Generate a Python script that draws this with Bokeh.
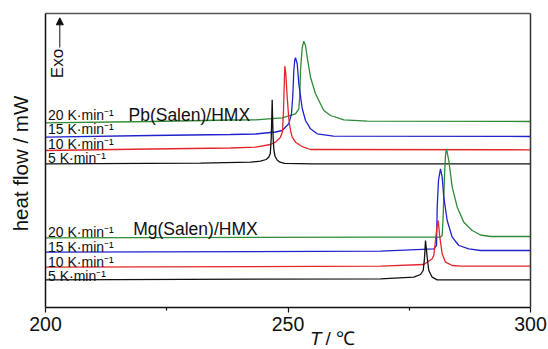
import math
from bokeh.plotting import figure
from bokeh.models import Range1d, Label, Arrow, NormalHead, FixedTicker, LinearAxis
from bokeh.embed import file_html
from bokeh.resources import INLINE

# ---------------- data (T in °C, heat flow in arbitrary offset units) ----------------
rate_labels = ["20 K·min⁻¹", "15 K·min⁻¹", "10 K·min⁻¹", "5 K·min⁻¹"]
rate_colors = ["#2e8b36", "#2222cc", "#e3262b", "#111111"]

# Pb(Salen)/HMX
pb20_T = [200.0, 221.65, 238.14, 243.30, 248.80, 251.55, 252.23, 252.43, 252.58, 252.93, 253.26, 253.61,
          253.96, 254.64, 255.67, 256.35, 257.38, 258.76, 261.51, 266.33, 300.0]
pb20_y = [184.7, 186.0, 187.5, 187.7, 189.7, 193.7, 198.7, 212.0, 237.0, 260.0, 266.3, 262.0,
          250.3, 230.3, 213.7, 207.0, 197.0, 192.0, 187.7, 186.3, 186.0]
pb15_T = [200.0, 221.65, 238.14, 243.30, 247.42, 248.80, 250.16, 250.72, 250.99, 251.20, 251.40, 251.55,
          251.90, 252.23, 252.93, 253.61, 254.64, 256.02, 259.38, 300.0]
pb15_y = [170.3, 172.0, 173.0, 173.5, 175.5, 177.0, 183.7, 193.7, 212.0, 237.0, 247.5, 249.7,
          243.7, 223.7, 199.0, 187.0, 178.7, 173.7, 171.3, 171.0]
pb10_T = [200.0, 221.65, 238.14, 243.30, 246.39, 247.42, 248.45, 248.87, 249.07, 249.22, 249.34, 249.53,
          249.84, 250.16, 250.52, 250.87, 251.55, 252.58, 253.20, 254.64, 300.0]
pb10_y = [157.0, 158.5, 159.5, 160.3, 163.0, 165.3, 170.3, 176.0, 197.0, 222.0, 241.3, 235.0,
          210.3, 189.0, 177.0, 170.3, 165.3, 162.0, 160.3, 158.0, 157.7]
pb5_T = [200.0, 231.96, 242.27, 244.33, 245.50, 246.05, 246.35, 246.55, 246.68, 246.74, 246.82, 246.95,
         247.10, 247.35, 247.75, 248.35, 249.30, 255.00, 300.0]
pb5_y = [143.7, 144.3, 145.3, 146.3, 148.0, 150.5, 154.0, 170.0, 195.0, 207.7, 190.0, 168.0,
         157.0, 151.0, 147.5, 145.3, 144.1, 143.7, 143.7]

# Mg(Salen)/HMX
mg20_T = [200.0, 269.07, 281.44, 281.79, 282.00, 282.23, 282.47, 282.68, 283.15, 283.86, 284.89, 286.25,
          287.98, 289.69, 291.75, 300.0]
mg20_y = [69.7, 70.3, 70.3, 72.0, 92.0, 127.0, 152.0, 158.7, 147.0, 120.3, 100.3, 85.3,
          77.0, 72.5, 71.0, 71.0]
mg15_T = [200.0, 269.07, 280.06, 280.62, 280.76, 281.03, 281.44, 281.79, 282.12, 282.82, 283.86, 285.22,
          287.28, 289.69, 300.0]
mg15_y = [55.3, 56.3, 58.7, 62.0, 100.3, 127.0, 138.7, 130.3, 110.3, 87.0, 70.3, 62.0,
          58.7, 57.0, 57.0]
mg10_T = [200.0, 269.07, 278.00, 279.73, 280.06, 280.41, 280.72, 280.97, 281.30, 281.79, 282.47, 283.86,
          285.57, 300.0]
mg10_y = [40.3, 41.3, 43.0, 48.7, 52.0, 67.0, 81.0, 87.0, 70.3, 53.7, 45.3, 42.0,
          41.3, 41.3]
mg5_T = [200.0, 269.07, 275.94, 277.32, 277.88, 278.14, 278.35, 278.56, 278.70, 279.03, 279.73, 280.76, 300.0]
mg5_y = [27.7, 28.7, 30.3, 33.0, 37.0, 49.0, 67.0, 57.0, 50.0, 37.0, 30.3, 27.7, 27.7]

x_ticks = [200, 250, 300]
x_minor = [225, 275]
T_MIN, T_MAX = 200, 300
Y_MIN, Y_MAX = 0, 294

pb_series = [(pb20_T, pb20_y), (pb15_T, pb15_y), (pb10_T, pb10_y), (pb5_T, pb5_y)]
mg_series = [(mg20_T, mg20_y), (mg15_T, mg15_y), (mg10_T, mg10_y), (mg5_T, mg5_y)]

# ---------------- geometry: the frame fills the canvas, the data box sits inside ----------------
W, H = 548, 349
X0 = 45          # canvas px of T = 200
PXC = 4.85       # px per °C
Y0 = 307         # canvas px (from top) of y = 0 ; 1 px per unit
x_rng = Range1d(T_MIN - X0 / PXC, T_MIN + (W - X0) / PXC)
y_rng = Range1d(-(H - Y0), Y0)
MID = 0.35       # baseline -> text middle, in font sizes

SANS = "Liberation Sans"
INK = "#111111"

p = figure(width=W, height=H, x_range=x_rng, y_range=y_rng,
           output_backend="svg", toolbar_location=None,
           x_axis_location=None, y_axis_location=None, min_border=0)
p.xgrid.visible = False
p.ygrid.visible = False
p.background_fill_color = "white"
p.border_fill_color = "white"
p.outline_line_color = None

# bottom axis (ticks + labels)
xb = LinearAxis(fixed_location=Y_MIN, bounds=(T_MIN, T_MAX),
                ticker=FixedTicker(ticks=x_ticks, minor_ticks=x_minor))
xb.major_tick_out = 5
xb.major_tick_in = 0
xb.minor_tick_out = 3
xb.minor_tick_in = 0
xb.axis_line_width = 1.5
xb.axis_line_color = INK
xb.major_tick_line_color = INK
xb.minor_tick_line_color = INK
xb.major_tick_line_width = 1.2
xb.minor_tick_line_width = 1.2
xb.major_label_text_font = SANS
xb.major_label_text_font_size = "19.5px"
xb.major_label_text_color = INK
xb.major_label_standoff = 4
p.add_layout(xb, "below")

# frame lines: left, top, right (plain axes, no ticks)
def plain_axis(loc, bounds, color, width):
    a = LinearAxis(fixed_location=loc, bounds=bounds, ticker=FixedTicker(ticks=[]))
    a.major_label_text_font_size = "0px"
    a.major_tick_out = 0
    a.minor_tick_out = 0
    a.axis_line_color = color
    a.axis_line_width = width
    return a

p.add_layout(plain_axis(T_MIN, (Y_MIN, Y_MAX), INK, 1.5), "left")
p.add_layout(plain_axis(Y_MAX, (T_MIN, T_MAX), "#555555", 1.5), "above")
p.add_layout(plain_axis(T_MAX, (Y_MIN, Y_MAX), "#333333", 1.5), "right")

for series in (pb_series, mg_series):
    for (tx, ty), col in zip(series, rate_colors):
        p.line(tx, ty, line_color=col, line_width=1.3)


def text_at(x, baseline, txt, size, **kw):
    """Left-aligned text whose baseline sits at `baseline` (data units = px)."""
    p.add_layout(Label(x=x, y=baseline + MID * size, text=txt, text_font=SANS,
                       text_font_size=f"{size}px", text_color=INK, text_align="left",
                       text_baseline="middle", **kw))


# rate labels
pb_base = [187.5, 173.5, 159.0, 145.0]
mg_base = [71.0, 56.0, 41.0, 27.0]
for bases in (pb_base, mg_base):
    for txt, b in zip(rate_labels, bases):
        text_at(200.52, b, txt, 14)

text_at(217.11, 186.3, "Pb(Salen)/HMX", 17.5)
text_at(218.08, 72.0, "Mg(Salen)/HMX", 17.5)

# Exo arrow
p.add_layout(Label(x=T_MIN + (62.7 - MID * 17 - X0) / PXC, y=244, text="Exo", angle=math.pi / 2,
                   text_font=SANS, text_font_size="17px", text_color=INK,
                   text_align="center", text_baseline="middle"))
p.add_layout(Arrow(x_start=202.95, y_start=260, x_end=202.95, y_end=289.7, line_width=1,
                   line_color=INK,
                   end=NormalHead(size=7, fill_color=INK, line_color=INK, line_width=1)))

# axis titles
p.add_layout(Label(x=T_MIN - 25 / PXC, y=144, text="heat flow / mW", angle=math.pi / 2, text_font=SANS,
                   text_font_size="20.5px", text_color=INK, text_align="center",
                   text_baseline="middle"))
text_at(T_MIN + 264.5 / PXC, -37.5, "T", 19, text_font_style="italic")
text_at(T_MIN + 280 / PXC, -37.5, "/ ℃", 19)

open("out.html", "w").write(file_html(p, INLINE))
